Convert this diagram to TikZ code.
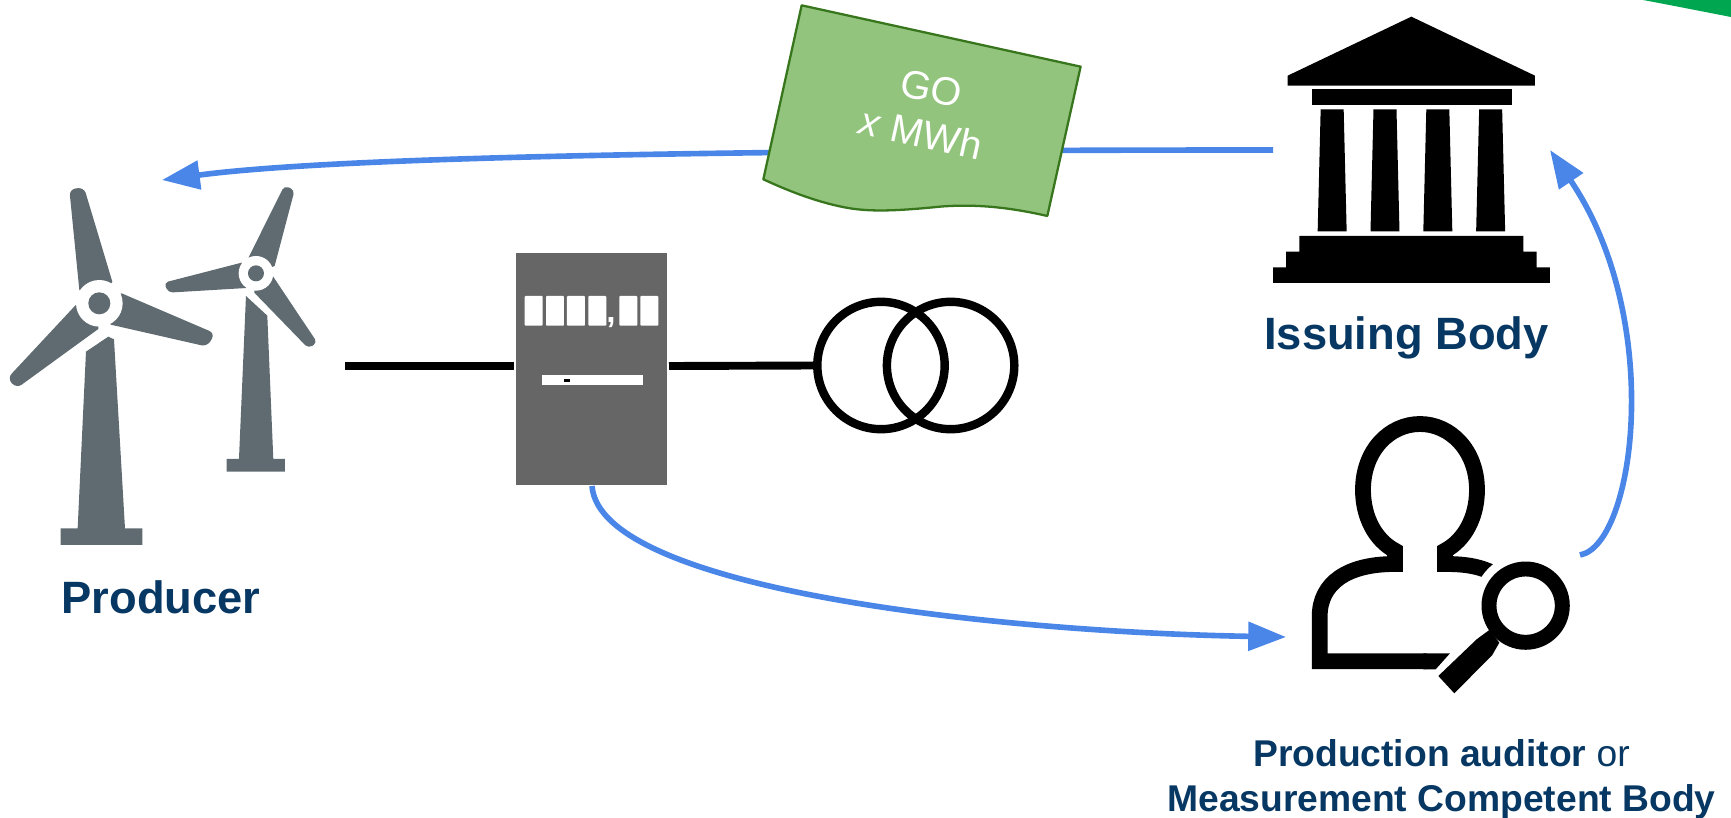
\documentclass[tikz,border=0pt]{standalone}
\usepackage{fontspec}
\setmainfont{Liberation Sans}
\usetikzlibrary{arrows.meta}
\definecolor{flowblue}{HTML}{4A86E8}
\definecolor{navy}{HTML}{073763}
\definecolor{turbine}{HTML}{5F6B70}
\definecolor{certfill}{HTML}{93C47D}
\definecolor{certline}{HTML}{38761D}
\definecolor{meterbox}{HTML}{666666}
\definecolor{swoosh}{HTML}{00A650}
\tikzset{
  flow/.style={draw=flowblue,line width=3.2pt,-{Triangle[length=21.5pt,width=16pt]}},
  wire/.style={draw=black,line width=4.5pt},
  coil/.style={circle,draw=black,line width=4.8pt,minimum size=72.5pt,inner sep=0pt},
  title/.style={text=navy,font=\bfseries\fontsize{25.8}{30}\selectfont},
  caption/.style={text=navy,align=center,font=\fontsize{21.2}{25.5}\selectfont},
  person/.style={draw=black,line width=9pt,line join=miter,miter limit=10},
}
\begin{document}
\begin{tikzpicture}[x=0.02cm,y=-0.02cm]
  \useasboundingbox (0,0) rectangle (1731,818);
  \fill[swoosh] (1643,0) .. controls (1675,6) and (1700,11) .. (1731,17) -- (1731,0) -- cycle;

  % big turbine
  \begin{scope}[shift={(0,170)},scale=0.3333]
    \fill[turbine] (298,400) -- (238,360) [rounded corners=3.5pt] -- (208,58) -- (252,52) [sharp corners] -- (337,335) -- cycle;
    \fill[turbine] (298,400) -- (365,370) [rounded corners=3.5pt] -- (645,490) -- (622,530) [sharp corners] -- (332,464) -- cycle;
    \fill[turbine] (298,400) -- (232,400) [rounded corners=3.5pt] -- (22,625) -- (50,655) [sharp corners] -- (295,477) -- cycle;
    \fill[white] (298,400) circle (70);
    \fill[turbine] (298,400) circle (33);
    \fill[turbine] (258,545) -- (325,500) -- (342,508) -- (375,1075) -- (427,1075) -- (427,1125)
      -- (182,1125) -- (182,1075) -- (233,1075) -- cycle;
    % small turbine
    \fill[turbine] (768,310) -- (746,262) [rounded corners=2.5pt] -- (853,47) -- (884,60) [sharp corners] -- (824,288) -- cycle;
    \fill[turbine] (768,310) -- (725,278) [rounded corners=2.5pt] -- (492,338) -- (505,368) [sharp corners] -- (740,354) -- cycle;
    \fill[turbine] (768,310) -- (817,316) [rounded corners=2.5pt] -- (952,518) -- (925,535) [sharp corners] -- (763,368) -- cycle;
    \fill[white] (768,310) circle (52);
    \fill[turbine] (768,310) circle (24);
    \fill[turbine] (738,378) -- (802,437) -- (820,867) -- (855,867) -- (855,905) -- (680,905)
      -- (680,867) -- (717,867) -- cycle;
  \end{scope}
  \node[title] (producer) at (161,597) {Producer};

  % meter and transformer
  \node[fill=meterbox,minimum width=3.014cm,minimum height=4.646cm,inner sep=0pt] (meter) at (591.3,368.9) {};
  \begin{scope}[shift={(500,240)},scale=0.3333]
    \foreach \x in {74,138,201,265,358,421}
      \fill[white,rounded corners=0.5pt] (\x,168) rectangle ++(54,89);
    \fill[white] (126,405) rectangle (429,435);
    \fill[black] (192,417) rectangle (210,426);
  \end{scope}
  \node[text=white,font=\bfseries\fontsize{19}{19}\selectfont,inner sep=0pt,anchor=base] (comma) at (611,322) {,};
  \coordinate (windOut) at (345,366);
  \coordinate (meterOut) at (669,366);
  \node[coil] (coilA) at (881,365.5) {};
  \node[coil] (coilB) at (950.6,365.5) {};
  \draw[wire] (windOut) -- (514,366);
  \draw[wire] (meterOut) -- (coilA.west);

  % issuing body
  \begin{scope}[shift={(1250,0)},scale=0.3333]
    \fill (484,50) -- (855,227) -- (855,257) -- (113,257) -- (113,227) -- cycle;
    \fill (185,268) rectangle (785,316);
    \foreach \x in {0,158.5,317,475.5}
      \fill[shift={(\x,0)}] (212,328) -- (281,328) -- (290,694) -- (203,694) -- cycle;
    \fill (148,708) -- (820,708) -- (820,755) -- (860,755) -- (860,802) -- (900,802) -- (900,849)
      -- (69,849) -- (69,802) -- (108,802) -- (108,755) -- (148,755) -- cycle;
  \end{scope}
  \node[title] (issuing) at (1406.5,337.5) {Issuing Body};

  % auditor
  \begin{scope}[shift={(1280,400)},scale=0.3333]
    \draw[person] (440,784) -- (119,784) -- (119,650) .. controls (119,550) and (200,492) .. (345,492)
      -- (345,452) .. controls (285,420) and (249,350) .. (249,270) .. controls (249,150) and (330,72) .. (420,72)
      .. controls (510,72) and (591,150) .. (591,270) .. controls (591,350) and (555,420) .. (495,452)
      -- (495,492) .. controls (560,492) and (605,500) .. (650,525);
    \fill (430,760) -- (510,760) -- (467,808) -- (430,808) -- cycle;
    \fill[white] (737,617) circle (158);
    \draw[black,line width=8.5pt] (737,617) circle (110);
    \fill (628,690) -- (658,728) -- (637,765) -- (523,880) -- (475,828) -- (590,718) -- cycle;
  \end{scope}
  \node[caption] (auditor) at (1441.5,779) {\textbf{Production auditor} or\\\textbf{Measurement Competent Body}};

  % flows
  \coordinate (issuingOut) at (1273,150);
  \coordinate (producerIn) at (162,180);
  \coordinate (meterBottom) at (592,486);
  \coordinate (auditorIn) at (1286,637);
  \coordinate (auditorOut) at (1580,555);
  \coordinate (issuingIn) at (1550,150);
  \draw[flow] (issuingOut) .. controls (800,150) and (350,155) .. (producerIn);
  \draw[flow] (meterBottom) .. controls (600,590) and (1000,632) .. (auditorIn);
  \draw[flow] (auditorOut) .. controls (1635,545) and (1665,320) .. (issuingIn);

  % certificate
  \begin{scope}[shift={(740,0)},scale=0.3333]
    \draw[fill=certfill,draw=certline,line width=1.3pt,line join=round] (185,16) -- (1022,200) -- (922,648)
      .. controls (800,620) and (700,612) .. (600,620) .. controls (480,632) and (400,636) .. (330,625)
      .. controls (240,610) and (150,575) .. (70,538) -- cycle;
  \end{scope}
  \node[text=white,align=center,rotate=-12.4,font=\fontsize{22.5}{26.5}\selectfont] (goCert) at (926,111) {GO\\\textit{x} MWh};
\end{tikzpicture}
\end{document}
